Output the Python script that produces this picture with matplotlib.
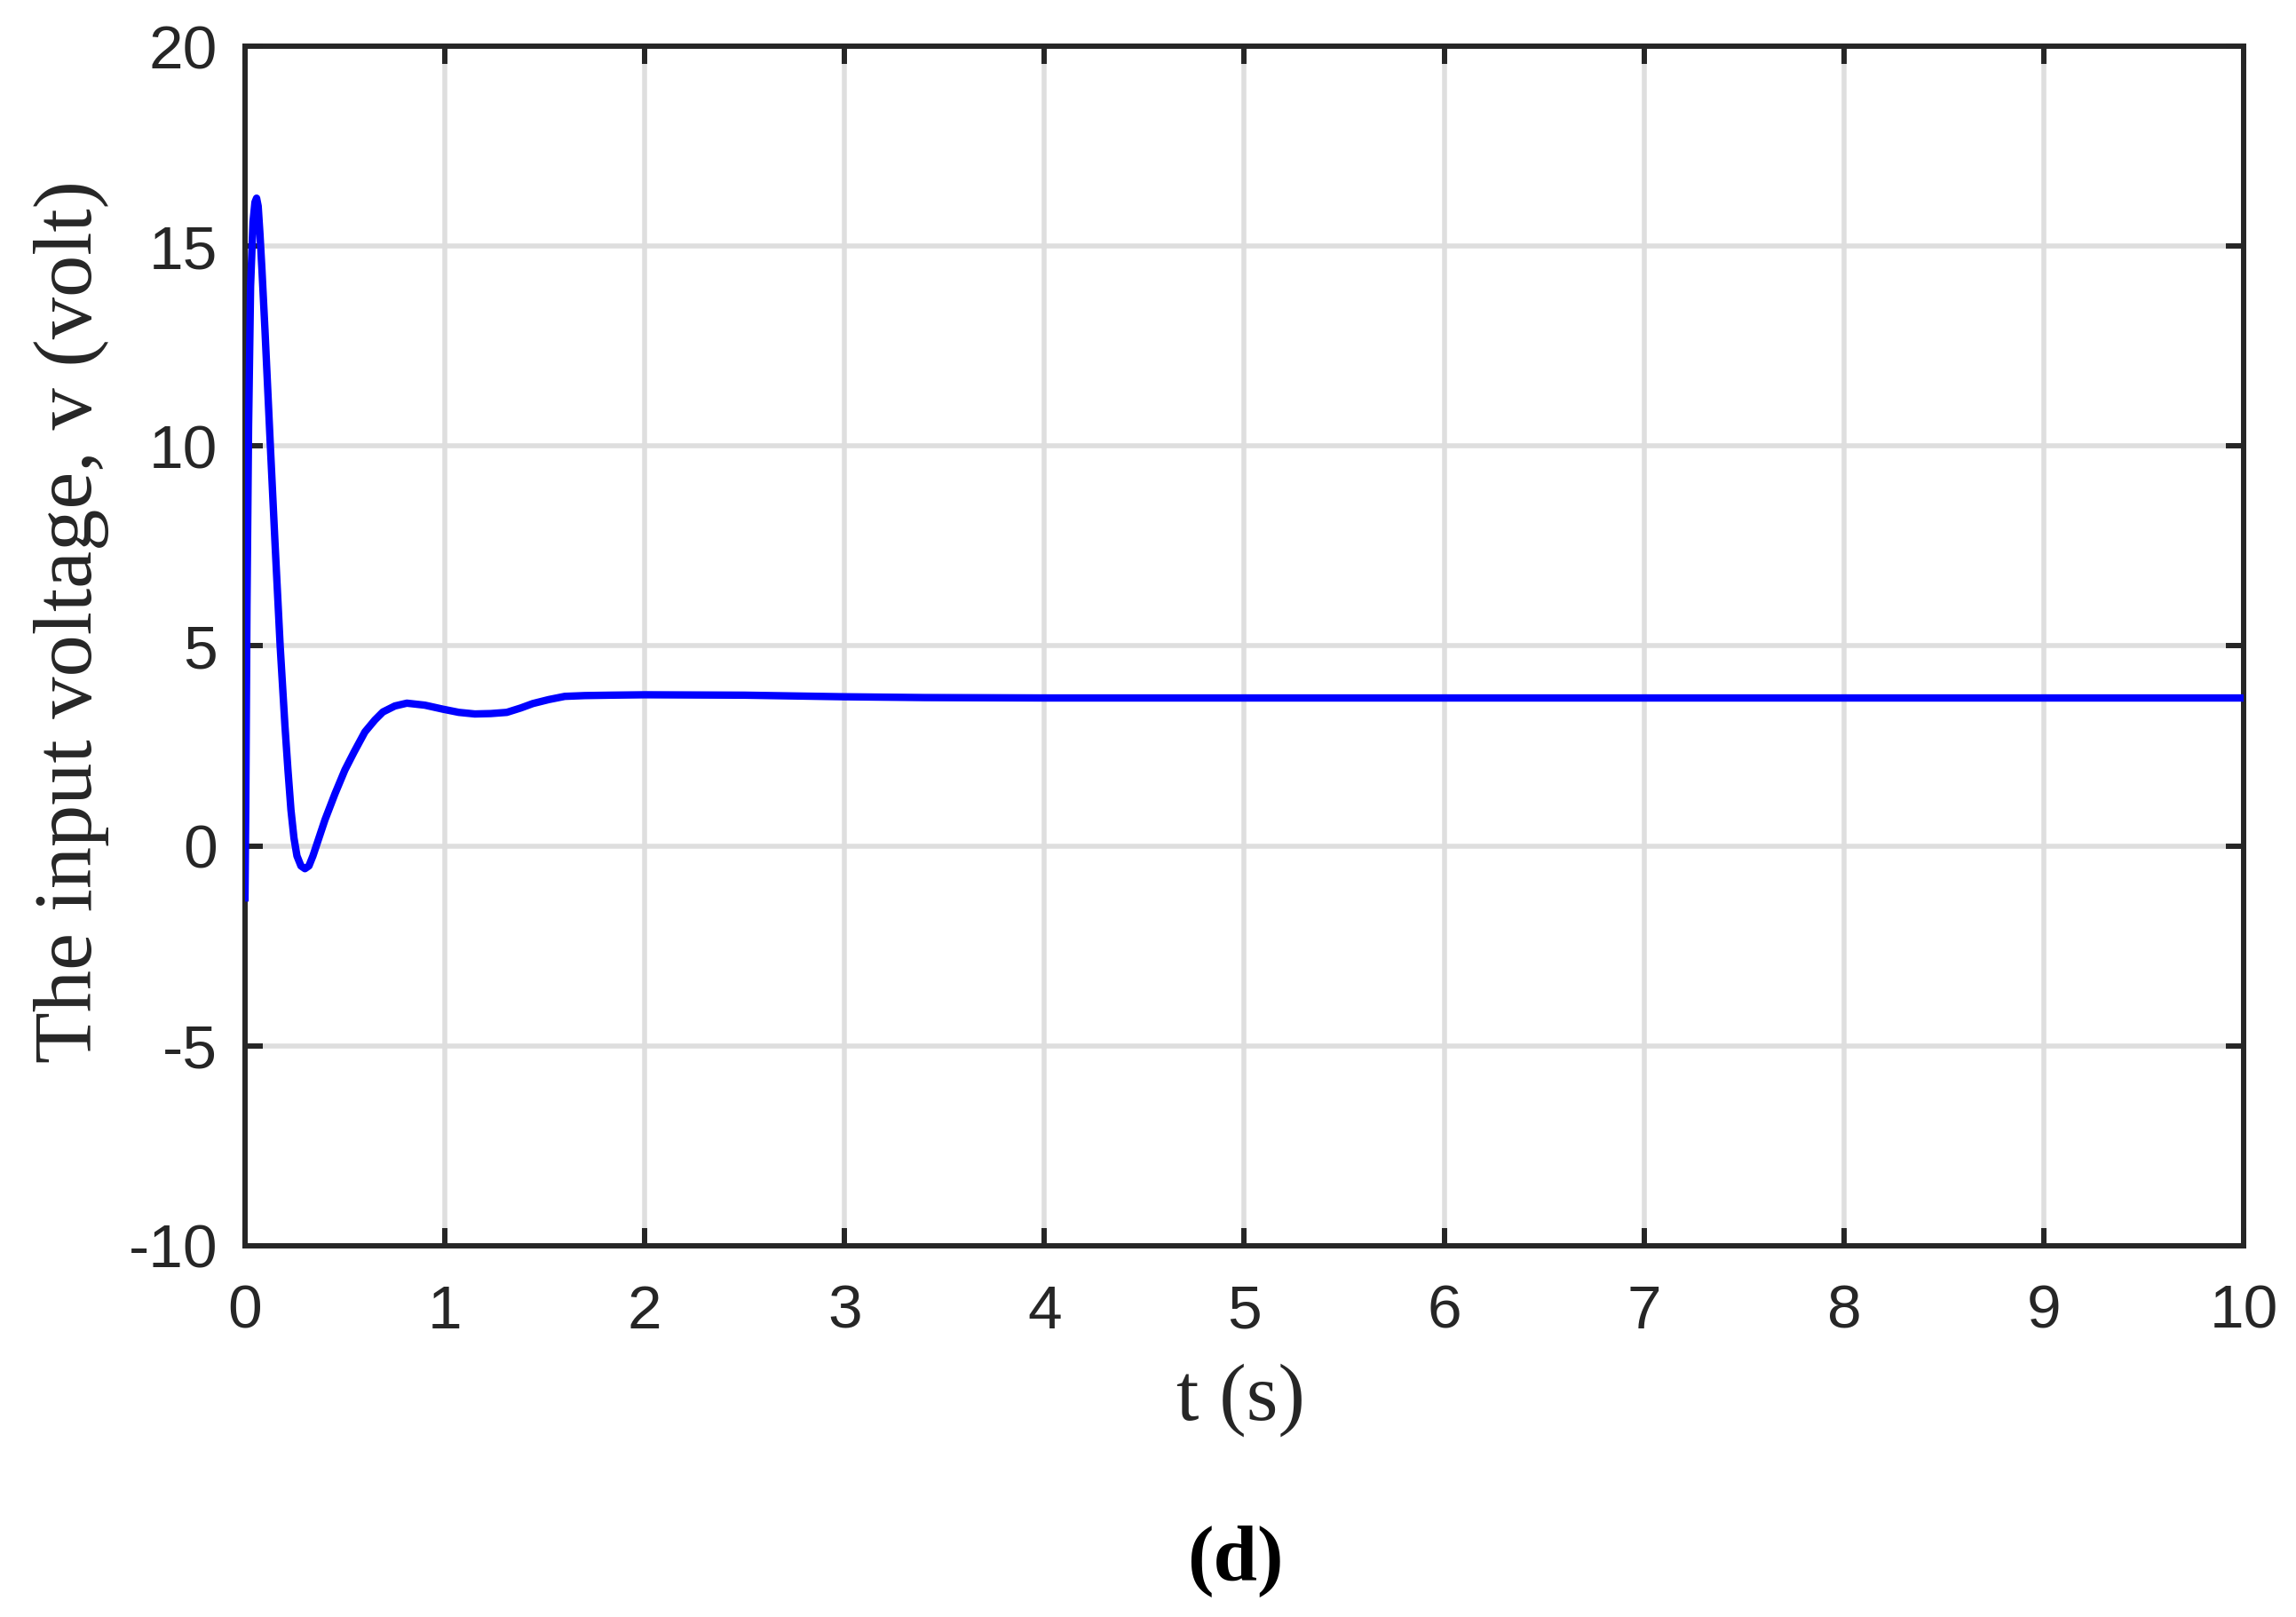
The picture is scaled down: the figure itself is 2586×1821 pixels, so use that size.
import numpy as np
import matplotlib
matplotlib.use('Agg')
import matplotlib.pyplot as plt

plt.rcParams['axes.unicode_minus'] = False

# Input voltage
t = [0.0, 0.004, 0.010, 0.018, 0.028, 0.040, 0.050, 0.058, 0.066, 0.075,
     0.085, 0.100, 0.127, 0.150, 0.176, 0.200, 0.215, 0.230, 0.245, 0.260,
     0.280, 0.300, 0.320, 0.340, 0.370, 0.400, 0.450, 0.500, 0.546, 0.600,
     0.650, 0.690, 0.750, 0.810, 0.900, 0.990, 1.070, 1.150, 1.230, 1.310,
     1.380, 1.440, 1.520, 1.600, 1.700, 1.830, 2.000, 2.500, 3.000, 3.400,
     4.000, 10.0]
v = [-1.30, 1.00, 6.00, 10.5, 14.0, 15.6, 16.1, 16.2, 16.0, 15.3,
     14.4, 12.9, 10.0, 7.60, 5.00, 3.00, 1.90, 0.90, 0.20, -0.25,
     -0.50, -0.57, -0.50, -0.25, 0.20, 0.65, 1.30, 1.90, 2.35, 2.85,
     3.15, 3.35, 3.50, 3.57, 3.52, 3.42, 3.34, 3.30, 3.31, 3.34,
     3.45, 3.56, 3.66, 3.74, 3.76, 3.77, 3.78, 3.77, 3.73, 3.71,
     3.70, 3.70]

xticks = list(range(0, 11))
yticks = [-10, -5, 0, 5, 10, 15, 20]

dark = '#262626'

fig = plt.figure(figsize=(25.86, 18.21), dpi=100)
ax = fig.add_axes([0.1067, 0.2296, 0.8705, 0.7418])

ax.plot(t, v, color='#0000ff', linewidth=6, zorder=3)

ax.set_xlim(0, 10)
ax.set_ylim(-10, 20)
ax.set_xticks(xticks)
ax.set_yticks(yticks)
ax.grid(True, color='#dedede', linewidth=4)
ax.set_axisbelow(True)

for s in ax.spines.values():
    s.set_linewidth(4.3)
    s.set_color(dark)

ax.tick_params(direction='in', length=14.5, width=4.3, color=dark,
               top=True, right=True, labelsize=50, labelcolor=dark)
ax.tick_params(axis='y', pad=22)
ax.tick_params(axis='x', pad=31)
for lab in ax.get_xticklabels() + ax.get_yticklabels():
    lab.set_fontfamily('Liberation Sans')

ax.set_xlabel('t (s)', fontsize=66, family='Liberation Serif', color=dark)
ax.set_ylabel('The input voltage, v (volt)', fontsize=68,
              family='Liberation Serif', color=dark)
ax.xaxis.set_label_coords(0.498, -0.098)
ax.yaxis.set_label_coords(-0.068, 0.52)

fig.text(0.538, 0.035, '(d)', fontsize=64, family='Liberation Serif',
         fontweight='bold', ha='center', va='center', color='black')

plt.savefig('out.png', dpi=100)
plt.close()
